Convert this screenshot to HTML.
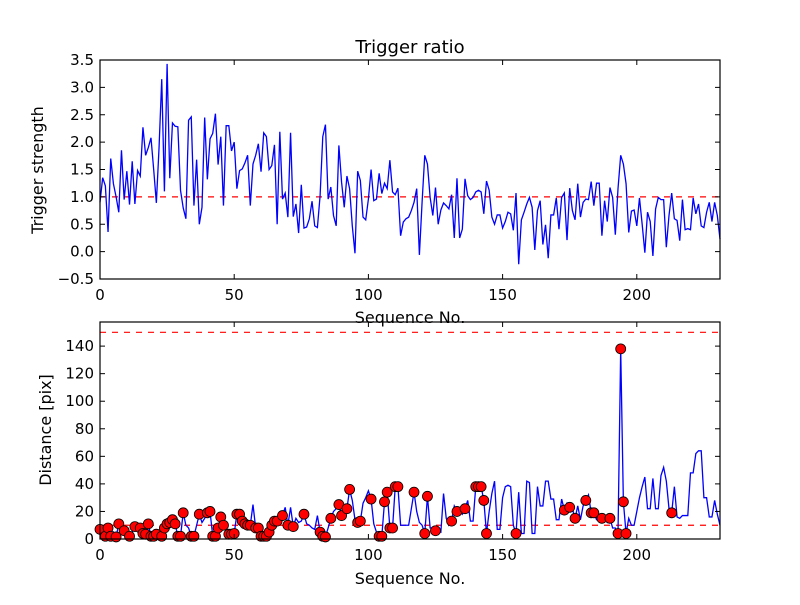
<!DOCTYPE html>
<html><head><meta charset="utf-8"><style>
body{margin:0;background:#fff;}
svg text{font-family:"DejaVu Sans","Liberation Sans",sans-serif;fill:#000;}
</style></head><body>
<svg id="chart" width="800" height="600" xmlns="http://www.w3.org/2000/svg"></svg>
<script>
const seqMax = 231;
const topTicksY = [-0.5,0,0.5,1,1.5,2,2.5,3,3.5];
const topTickLabels = ["\u22120.5","0.0","0.5","1.0","1.5","2.0","2.5","3.0","3.5"];
const xTicks = [0,50,100,150,200];
const botTicksY = [0,20,40,60,80,100,120,140];
const triggerThreshold = 1.0;
const distanceThreshold1 = 10;
const distanceThreshold2 = 150;
const triggerStrength = [0.9,1.35,1.2,0.36,1.7,1.24,1.0,0.72,1.85,0.95,1.47,0.86,1.65,0.87,1.48,1.38,2.27,1.76,1.9,2.08,1.5,0.89,1.9,3.15,1.1,3.43,1.34,2.35,2.29,2.28,1.12,0.8,0.6,2.4,2.46,0.84,1.68,0.5,0.81,2.45,1.32,2.06,2.16,2.52,1.59,2.1,0.84,2.3,2.3,1.84,2.0,1.15,1.48,1.51,1.62,1.76,0.84,1.6,1.76,1.97,1.46,2.17,2.1,1.5,1.57,1.95,0.5,2.19,0.96,1.07,0.63,2.17,0.64,0.87,0.34,1.22,0.43,0.45,0.6,0.92,0.47,0.44,1.02,2.1,2.32,0.96,1.18,0.66,0.47,1.94,1.27,0.81,1.38,1.15,0.47,-0.03,1.47,1.3,0.63,0.58,0.96,1.5,0.93,0.96,1.43,1.06,1.25,1.15,1.67,1.09,1.04,1.16,0.29,0.54,0.6,0.63,0.75,0.9,1.15,-0.06,0.9,1.76,1.6,0.99,0.66,1.17,0.5,0.76,0.89,0.84,0.78,1.04,0.25,1.34,0.25,0.41,1.33,1.02,0.95,0.99,1.09,1.12,1.09,0.69,1.29,1.12,0.63,0.5,0.67,0.67,0.43,0.55,0.72,0.69,0.39,1.07,-0.23,0.58,0.72,0.87,0.99,0.81,0.03,0.75,0.93,0.13,0.49,-0.12,0.67,0.67,0.98,0.41,0.99,1.07,0.21,1.16,0.75,0.58,1.24,0.63,0.9,0.96,0.95,1.28,0.84,1.25,1.25,0.29,0.93,0.55,1.17,0.99,0.31,1.15,1.76,1.6,1.24,0.35,0.74,0.76,0.47,0.98,0.5,-0.02,0.72,0.55,-0.08,0.78,0.99,0.95,0.95,0.08,0.66,1.07,0.6,0.57,0.2,0.95,0.4,0.42,0.4,0.98,0.69,0.87,0.47,0.44,0.72,0.9,0.55,0.9,0.66,0.23];
const distance = [7,9,2,8,2,5,1.5,11,4,6,3,2,5,9,7,8,4,3.5,11,2,2,3.5,5,2,8,11,12,14,11,2,2,19,10,8,2,2,10,18,12,15,19,20,2,2,8,16,10,6,3.5,3.5,4,18,18,13,11,10,10,25,8,8,2,2,2,5,10,13,13,14,17,23,10,23,9,15,12,13,18,11,10,8,7,17,5,2,1.5,8,15,20,22,25,17,20,22,36,28,14,12,13,26,30,35,29,11,5,2,2,27,34,8,8,38,38,10,10,10,10,22,34,20,12,10,4,31,8,8,6,6,5,33,15,10,13,24,20,21,18,22,28,13,13,38,38,38,28,4,20,33,42,7,7,30,38,39,38,10,4,34,4,4,42,41,4,4,38,24,24,42,42,29,29,14,14,29,21,26,23,22,15,24,14,24,28,32,19,19,14,14,15,14,12,15,8,8,4,138,27,4,15,10,10,20,30,38,45,22,22,44,22,22,46,52,42,22,19,38,16,15,17,17,17,48,48,62,64,64,30,30,16,16,28,18,10];
const markedIdx = [0,2,3,4,6,7,9,11,13,15,16,17,18,19,20,21,23,24,25,26,27,28,29,30,31,34,35,37,40,41,42,43,44,45,46,48,49,50,51,52,53,54,55,56,58,59,60,61,62,63,64,65,66,68,70,72,76,82,83,84,86,89,90,92,93,96,97,101,104,105,106,107,108,109,110,111,117,121,122,125,131,133,136,140,141,142,143,144,155,173,175,177,181,183,184,187,190,193,194,195,196,213];

const svg = document.getElementById('chart');
const NS = 'http://www.w3.org/2000/svg';
function mk(tag, attrs, parent){const e=document.createElementNS(NS,tag);for(const k in attrs)e.setAttribute(k,attrs[k]);(parent||svg).appendChild(e);return e;}

const X0=100, X1=720;
function xs(v){return X0 + v/seqMax*(X1-X0);}
const T0=60, T1=279, tMin=-0.5, tMax=3.5;
function ysTop(v){return T1 - (v-tMin)/(tMax-tMin)*(T1-T0);}
const B0=322, B1=539, bMin=0, bMax=157.5;
function ysBot(v){return B1 - (v-bMin)/(bMax-bMin)*(B1-B0);}

// title
let t=mk('text',{x:410,y:53,'text-anchor':'middle','font-size':18});
t.textContent='Trigger ratio';



function axes(top,bot,ysF,yTicks,yLabels,name){
  const g=mk('g',{});
  
  
  xTicks.forEach(v=>{
    const x=xs(v);
    mk('line',{x1:x,y1:bot,x2:x,y2:bot-5,stroke:'#000'},g);
    mk('line',{x1:x,y1:top,x2:x,y2:top+5,stroke:'#000'},g);
    const l=mk('text',{x:x,y:bot+21,'text-anchor':'middle','font-size':15},g);
    l.textContent=String(v);
    
    
  });
  yTicks.forEach((v,i)=>{
    const y=ysF(v);
    mk('line',{x1:X0,y1:y,x2:X0+5,y2:y,stroke:'#000'},g);
    mk('line',{x1:X1,y1:y,x2:X1-5,y2:y,stroke:'#000'},g);
    const l=mk('text',{x:X0-6,y:y+5,'text-anchor':'end','font-size':15},g);
    l.textContent=yLabels[i];
    
    
  });
  return g;
}

// top panel
const dashTop=mk('line',{x1:X0,x2:X1,y1:ysTop(triggerThreshold),y2:ysTop(triggerThreshold),stroke:'#f00','stroke-width':1.2,'stroke-dasharray':'6,6'});


const pTop=mk('polyline',{points:triggerStrength.map((v,i)=>xs(i)+','+ysTop(v)).join(' '),fill:'none',stroke:'#00f','stroke-width':1.3});


axes(T0,T1,ysTop,topTicksY,topTickLabels,'top-axes');
mk('rect',{x:X0,y:T0,width:X1-X0,height:T1-T0,fill:'none',stroke:'#000','stroke-width':1.2});
let yl=mk('text',{x:43,y:170,'text-anchor':'middle','font-size':16,transform:'rotate(-90 43 170)'});
yl.textContent='Trigger strength';


let xl=mk('text',{x:410,y:323,'text-anchor':'middle','font-size':16});
xl.textContent='Sequence No.';



// bottom panel
[distanceThreshold1,distanceThreshold2].forEach(v=>{
  const d=mk('line',{x1:X0,x2:X1,y1:ysBot(v),y2:ysBot(v),stroke:'#f00','stroke-width':1.2,'stroke-dasharray':'6,6'});
  
  
});
const pBot=mk('polyline',{points:distance.map((v,i)=>xs(i)+','+ysBot(v)).join(' '),fill:'none',stroke:'#00f','stroke-width':1.3});


markedIdx.forEach(i=>{
  const c=mk('circle',{cx:xs(i),cy:ysBot(distance[i]),r:5,fill:'#f00',stroke:'#000','stroke-width':0.8});
  
  
});
axes(B0,B1,ysBot,botTicksY,botTicksY.map(String),'bottom-axes');
mk('rect',{x:X0,y:B0,width:X1-X0,height:B1-B0,fill:'none',stroke:'#000','stroke-width':1.2});
let yl2=mk('text',{x:51,y:430,'text-anchor':'middle','font-size':16,transform:'rotate(-90 51 430)'});
yl2.textContent='Distance [pix]';


let xl2=mk('text',{x:410,y:584,'text-anchor':'middle','font-size':16});
xl2.textContent='Sequence No.';


</script>
</body></html>
